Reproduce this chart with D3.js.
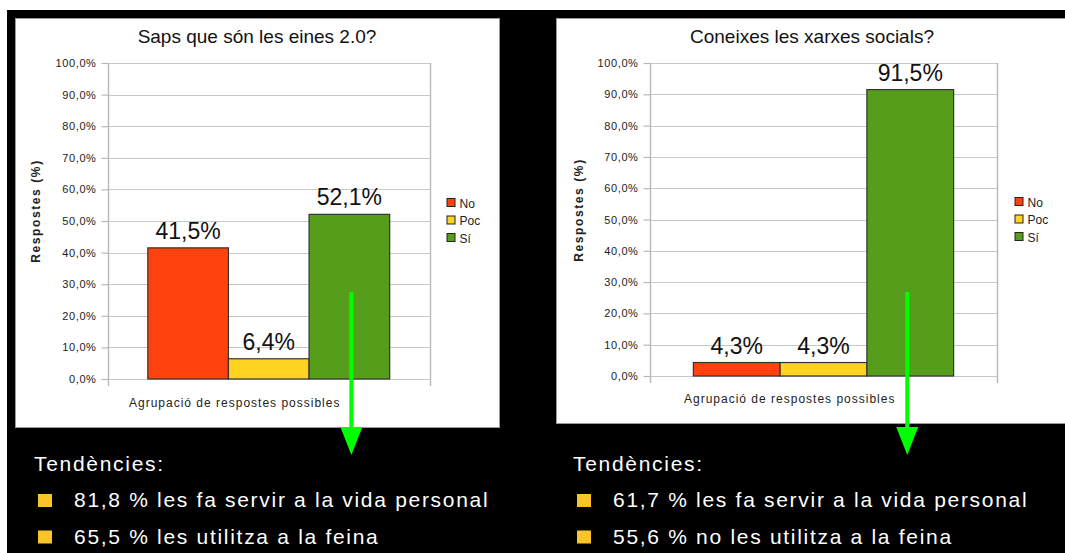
<!DOCTYPE html>
<html>
<head>
<meta charset="utf-8">
<script src="https://cdn.jsdelivr.net/npm/d3@7"></script>
<style>
  body { margin: 0; background: #fff; }
  svg { display: block; font-family: "Liberation Sans", Arial, sans-serif; }
</style>
</head>
<body>
<div id="chart"></div>
<script>
const categories = ["No", "Poc", "Sí"];
const toolsValues = [41.5, 6.4, 52.1];
const socialValues = [4.3, 4.3, 91.5];
const yTicks = [0, 10, 20, 30, 40, 50, 60, 70, 80, 90, 100];
const chartTitles = ["Saps que són les eines 2.0?", "Coneixes les xarxes socials?"];
const yTitle = "Respostes (%)";
const xTitle = "Agrupació de respostes possibles";
const trendsHeading = "Tendències:";
const toolsTrends = ["81,8 % les fa servir a la vida personal", "65,5 % les utilitza a la feina"];
const socialTrends = ["61,7 % les fa servir a la vida personal", "55,6 % no les utilitza a la feina"];

const colors = { "No": "#ff420e", "Poc": "#ffd320", "Sí": "#579d1c" };
const fmt = (d) => d.toFixed(1).replace(".", ",") + "%";

const width = 1065, height = 553;
const svg = d3.select("#chart").append("svg").attr("width", width).attr("height", height);

// black slide background
svg.append("rect").attr("x", 7).attr("y", 10).attr("width", width - 7).attr("height", height - 10).attr("fill", "#000");

function drawChart(cfg) {
  const g = svg.append("g");
  g.append("rect")
    .attr("x", cfg.panel.x + 0.5).attr("y", cfg.panel.y + 0.5)
    .attr("width", cfg.panel.w).attr("height", cfg.panel.h)
    .attr("fill", "#fff").attr("stroke", "#9a9a9a");

  const p = cfg.plot;
  const x = d3.scaleBand().domain(categories).range([p.left, p.right]).paddingInner(0).paddingOuter(0.5);
  const y = d3.scaleLinear().domain([0, 100]).range([p.bottom, p.top]);

  // gridlines
  g.append("g").selectAll("line").data(yTicks).join("line")
    .attr("x1", p.left).attr("x2", p.right)
    .attr("y1", (d) => Math.round(y(d)) + 0.5).attr("y2", (d) => Math.round(y(d)) + 0.5)
    .attr("stroke", "#c8c8c8").attr("stroke-width", 1.2);

  // side lines with little ticks below the baseline
  [p.left, p.right].forEach((xx) => {
    g.append("line").attr("x1", Math.round(xx) + 0.5).attr("x2", Math.round(xx) + 0.5)
      .attr("y1", p.top).attr("y2", p.bottom + 7)
      .attr("stroke", "#b8b8b8").attr("stroke-width", 1.4);
  });

  const yAxis = g.append("g").attr("transform", `translate(${Math.round(p.left) + 0.5},0)`)
    .call(d3.axisLeft(y).tickValues(yTicks).tickFormat(fmt).tickSize(7).tickPadding(5));
  yAxis.select(".domain").remove();
  yAxis.selectAll(".tick line").attr("stroke", "#b8b8b8").attr("stroke-width", 1.2);
  yAxis.selectAll(".tick text")
    .attr("fill", "#222").style("font-size", "11px").style("letter-spacing", "0.6px")
    .style("font-family", "'Liberation Sans', Arial, sans-serif");

  // bars
  g.append("g").selectAll("rect").data(cfg.values).join("rect")
    .attr("x", (d, i) => x(categories[i]))
    .attr("y", (d) => y(d))
    .attr("width", x.bandwidth())
    .attr("height", (d) => y(0) - y(d))
    .attr("fill", (d, i) => colors[categories[i]])
    .attr("stroke", "#333").attr("stroke-width", 1.2);

  // value labels
  g.append("g").selectAll("text").data(cfg.values).join("text")
    .attr("x", (d, i) => x(categories[i]) + x.bandwidth() / 2)
    .attr("y", (d) => y(d) - 9)
    .attr("text-anchor", "middle")
    .style("font-size", "23px").attr("fill", "#111")
    .text((d) => d.toFixed(1).replace(".", ",") + "%");

  g.append("text").attr("x", cfg.titleX).attr("y", 43).attr("text-anchor", "middle")
    .style("font-size", "19px").attr("fill", "#111").text(cfg.title);

  g.append("text").attr("transform", `translate(${cfg.yTitleX},${cfg.yTitleY}) rotate(-90)`)
    .attr("text-anchor", "middle").style("font-size", "12px").style("font-weight", "bold")
    .style("letter-spacing", "1.6px").attr("fill", "#222").text(yTitle);

  g.append("text").attr("x", cfg.xTitleX).attr("y", cfg.xTitleY)
    .style("font-size", "12px").style("letter-spacing", "1px").attr("fill", "#222").text(xTitle);

  // legend
  const legend = g.append("g").attr("transform", `translate(${cfg.legendX},${cfg.legendY})`);
  categories.forEach((c, i) => {
    const row = legend.append("g").attr("transform", `translate(0,${i * 17.5})`);
    row.append("rect").attr("x", 0.5).attr("y", 0.5).attr("width", 8).attr("height", 8)
      .attr("fill", colors[c]).attr("stroke", "#222").attr("stroke-width", 1);
    row.append("text").attr("x", 13).attr("y", 9.5).style("font-size", "12px").attr("fill", "#222").text(c);
  });

  // green arrow from the "Sí" bar down to the trends
  const ax = x("Sí") + x.bandwidth() / 2 + cfg.arrowShift;
  svg.append("line").attr("x1", ax).attr("x2", ax).attr("y1", 292).attr("y2", 432)
    .attr("stroke", "#00ff00").attr("stroke-width", 4);
  svg.append("path").attr("d", `M${ax - 11},427 L${ax + 11},427 L${ax},455 Z`).attr("fill", "#00ff00");

  // trends text
  const t = svg.append("g").attr("fill", "#fff").style("font-size", "21px").style("letter-spacing", "1.7px");
  t.append("text").attr("x", cfg.trendX).attr("y", 471).text(trendsHeading);
  cfg.trends.forEach((s, i) => {
    const by = 507 + i * 36.5;
    svg.append("rect").attr("x", cfg.trendX + 4).attr("y", by - 13).attr("width", 14).attr("height", 13).attr("fill", "#fbc52a");
    t.append("text").attr("x", cfg.trendX + 40).attr("y", by).text(s);
  });
}

drawChart({
  values: toolsValues, title: chartTitles[0], trends: toolsTrends,
  panel: { x: 15, y: 18, w: 484, h: 409 },
  plot: { left: 107.5, right: 430, top: 63, bottom: 379 },
  titleX: 257, yTitleX: 40, yTitleY: 211, xTitleX: 129, xTitleY: 407,
  legendX: 446.5, legendY: 198, arrowShift: 2, trendX: 34
});

drawChart({
  values: socialValues, title: chartTitles[1], trends: socialTrends,
  panel: { x: 556, y: 18, w: 515, h: 405 },
  plot: { left: 650, right: 997, top: 63, bottom: 376 },
  titleX: 812, yTitleX: 583, yTitleY: 210, xTitleX: 684, xTitleY: 403,
  legendX: 1014.5, legendY: 197, arrowShift: -3, trendX: 573
});
</script>
</body>
</html>
